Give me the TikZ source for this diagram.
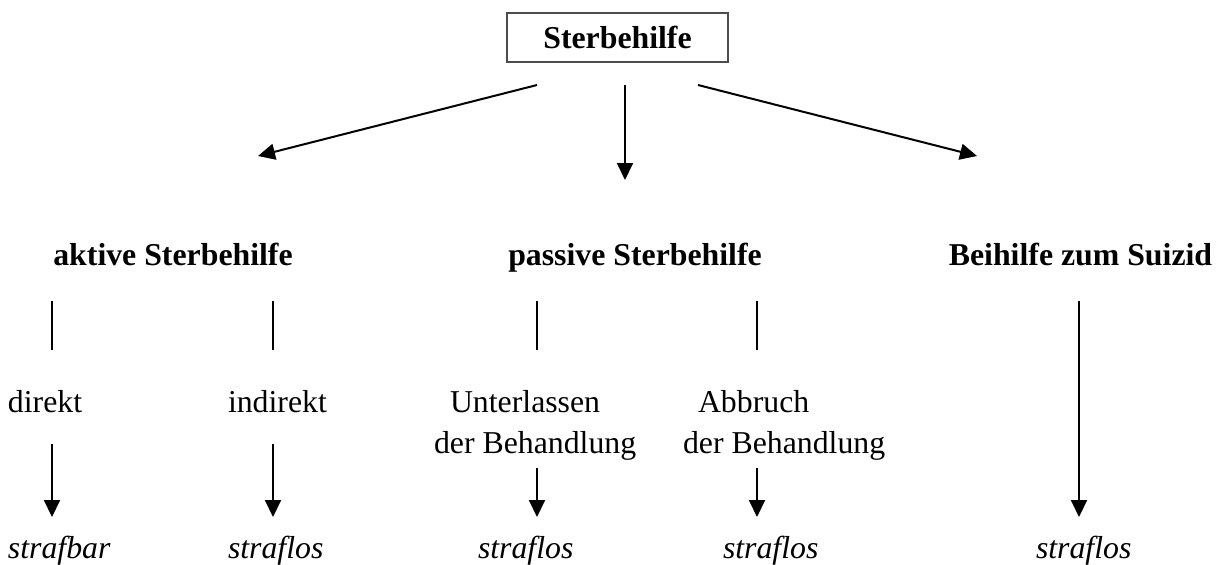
\documentclass[tikz,border=0pt]{standalone}
\usepackage{fontspec}
\setmainfont{Liberation Serif}
\usetikzlibrary{arrows.meta}
\begin{document}
\begin{tikzpicture}[x=0.5pt,y=-0.5pt,
  txt/.style={inner sep=0pt,outer sep=0pt,font=\fontsize{15.9}{20}\selectfont},
  bld/.style={txt,font=\fontsize{15.9}{20}\selectfont\bfseries},
  itl/.style={txt,font=\fontsize{15.9}{20}\selectfont\itshape},
  topbox/.style={draw=black!70,line width=1pt,minimum width=110.5pt,minimum height=24.5pt,inner sep=0pt,font=\fontsize{15.9}{20}\selectfont\bfseries},
  conn/.style={line width=1pt},
  arr/.style={conn,-{Triangle[length=8.5pt,width=8pt]}}]
\useasboundingbox (0,0) rectangle (1226,564);
% top
\node[topbox] (top) at (617.5,37.5) {Sterbehilfe};
% level 2
\node[bld,anchor=base] (akt) at (173,265) {aktive Sterbehilfe};
\node[bld,anchor=base] (pas) at (635,265) {passive Sterbehilfe};
\node[bld,anchor=base] (bei) at (1080.5,265) {Beihilfe zum Suizid};
% level 3
\node[txt,anchor=base west] (dir) at (8,412) {direkt};
\node[txt,anchor=base west] (ind) at (228,412) {indirekt};
\node[txt,anchor=base west] (unt) at (450,412) {Unterlassen};
\node[txt,anchor=base west] (unt2) at (434,453) {der Behandlung};
\node[txt,anchor=base west] (abb) at (698,412) {Abbruch};
\node[txt,anchor=base west] (abb2) at (683,453) {der Behandlung};
% level 4
\node[itl,anchor=base west] (s1) at (8,558) {strafbar};
\node[itl,anchor=base west] (s2) at (228,558) {straflos};
\node[itl,anchor=base west] (s3) at (478,558) {straflos};
\node[itl,anchor=base west] (s4) at (723,558) {straflos};
\node[itl,anchor=base west] (s5) at (1036,558) {straflos};
% coordinates
\coordinate (tL) at (537,85);  \coordinate (hL) at (258,156);
\coordinate (tM) at (625,85);  \coordinate (hM) at (625,180);
\coordinate (tR) at (698,85);  \coordinate (hR) at (977,156);
\foreach \n/\x in {a/52,b/273,c/537,d/757}{
  \coordinate (u\n) at (\x,301);
  \coordinate (l\n) at (\x,350);
}
\coordinate (da) at (52,444);  \coordinate (ea) at (52,517);
\coordinate (db) at (273,444); \coordinate (eb) at (273,517);
\coordinate (dc) at (537,468); \coordinate (ec) at (537,517);
\coordinate (dd) at (757,468); \coordinate (ed) at (757,517);
\coordinate (de) at (1079,301); \coordinate (ee) at (1079,517);
% connectors
\draw[arr] (tL) -- (hL);
\draw[arr] (tM) -- (hM);
\draw[arr] (tR) -- (hR);
\foreach \n in {a,b,c,d}{\draw[conn] (u\n) -- (l\n);}
\foreach \n in {a,b,c,d,e}{\draw[arr] (d\n) -- (e\n);}
\end{tikzpicture}
\end{document}
